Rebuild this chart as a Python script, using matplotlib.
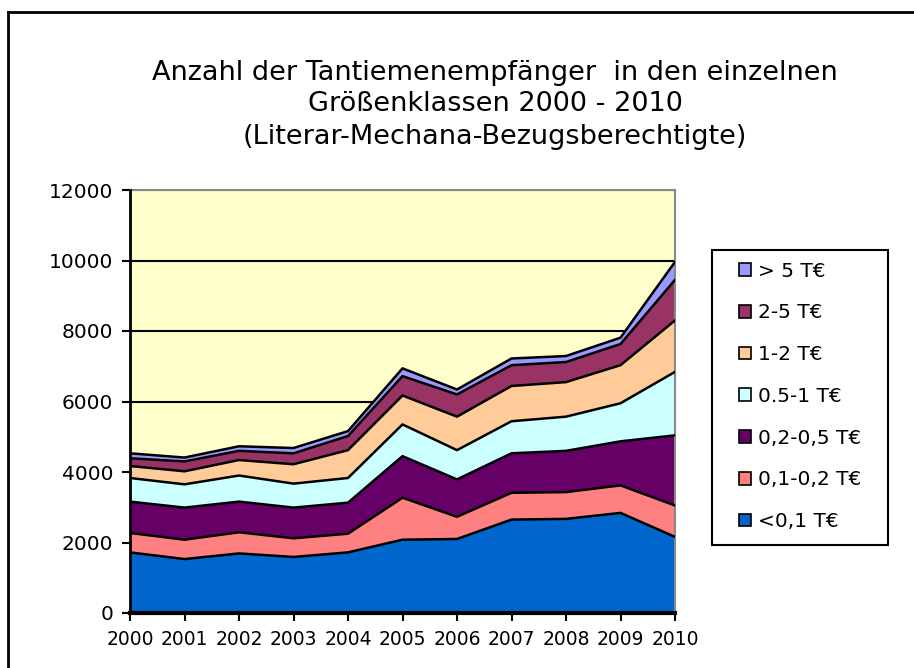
import matplotlib.pyplot as plt
import numpy as np
from matplotlib.patches import Patch, Rectangle
from matplotlib.lines import Line2D

years = [2000, 2001, 2002, 2003, 2004, 2005, 2006, 2007, 2008, 2009, 2010]

labels = ['<0,1 T€', '0,1-0,2 T€', '0,2-0,5 T€', '0.5-1 T€', '1-2 T€', '2-5 T€', '> 5 T€']
lt_01 = [1720, 1530, 1690, 1590, 1720, 2080, 2100, 2650, 2670, 2840, 2160]
k01_02 = [550, 550, 600, 530, 530, 1190, 630, 760, 760, 780, 890]
k02_05 = [890, 910, 870, 870, 880, 1180, 1060, 1120, 1170, 1250, 1990]
k05_1 = [670, 660, 740, 680, 700, 900, 830, 910, 970, 1080, 1800]
k1_2 = [340, 370, 440, 550, 790, 820, 950, 1000, 980, 1080, 1460]
k2_5 = [220, 280, 260, 310, 400, 550, 630, 590, 570, 600, 1150]
gt_5 = [140, 110, 130, 150, 140, 220, 140, 190, 170, 180, 510]

colors = ['#0066CC', '#FF8080', '#660066', '#CCFFFF', '#FFCC99', '#993366', '#9999FF']

series = [lt_01, k01_02, k02_05, k05_1, k1_2, k2_5, gt_5]

W, H = 914, 668
fig = plt.figure(figsize=(W / 100, H / 100), dpi=100)
ax = fig.add_axes([130 / W, 1 - 613 / H, 545 / W, 423 / H])
ax.set_facecolor('#FFFFCC')

ax.stackplot(years, *series, colors=colors, linewidth=0, zorder=2)
cum = np.cumsum(np.array(series), axis=0)
for row in cum:
    ax.plot(years, row, color='black', lw=1.8, zorder=3)

ax.set_xlim(2000, 2010)
ax.set_ylim(0, 12000)
ax.set_yticks(range(0, 12001, 2000))
ax.set_xticks(years)
ax.yaxis.grid(True, color='black', lw=1.5, zorder=1)
ax.set_axisbelow(True)

for s in ['top', 'right']:
    ax.spines[s].set_color('#888888')
    ax.spines[s].set_linewidth(1.5)
ax.spines['left'].set_linewidth(2)
ax.spines['bottom'].set_linewidth(3)
ax.spines['left'].set_zorder(4)
ax.spines['bottom'].set_zorder(4)
ax.tick_params(axis='y', labelsize=14.5, length=6, width=1.5, pad=6)
ax.tick_params(axis='x', labelsize=13.5, length=6, width=1.5, pad=6)

fig.text(495 / W, 1 - 73 / H, 'Anzahl der Tantiemenempfänger  in den einzelnen',
         ha='center', va='center', fontsize=19.5)
fig.text(495 / W, 1 - 104 / H, 'Größenklassen 2000 - 2010',
         ha='center', va='center', fontsize=19.5)
fig.text(495 / W, 1 - 137 / H, '(Literar-Mechana-Bezugsberechtigte)',
         ha='center', va='center', fontsize=19.5)

# legend box drawn separately so its size matches the original
fig.add_artist(Rectangle((712 / W, 1 - 545 / H), 176 / W, 295 / H,
                         transform=fig.transFigure, facecolor='white',
                         edgecolor='black', lw=1.5))
handles = [Patch(facecolor=c, edgecolor='black', lw=1.2) for c in colors][::-1]
leg = fig.legend(handles, labels[::-1], loc='upper left',
                 bbox_to_anchor=(739 / W, 1 - 261.5 / H),
                 fontsize=14.5, frameon=False, labelspacing=1.13,
                 handlelength=0.6, handleheight=0.6, handletextpad=0.35,
                 borderpad=0, borderaxespad=0)

# outer chart border
fig.add_artist(Line2D([8 / W, 8 / W], [0, 1 - 12 / H], color='black', lw=2))
fig.add_artist(Line2D([8 / W, 1], [1 - 12 / H, 1 - 12 / H], color='black', lw=2))

fig.savefig('out.png', dpi=100)
